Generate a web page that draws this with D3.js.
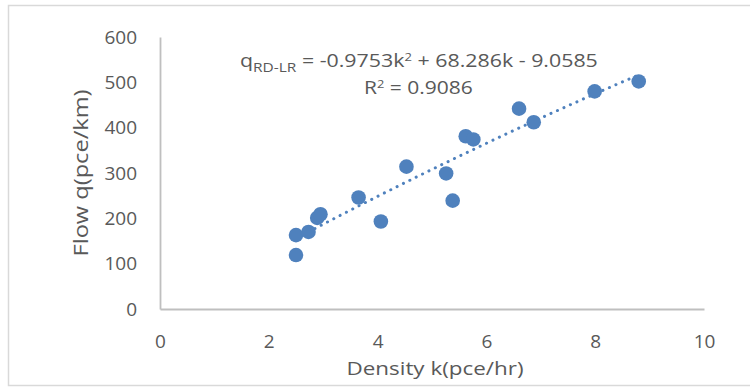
<!DOCTYPE html>
<html>
<head>
<meta charset="utf-8">
<script src="https://cdn.jsdelivr.net/npm/d3@7"></script>
<style>
  body { margin: 0; background: #fff; }
  text { font-family: 'Open Sans', sans-serif; fill: #595959; }
</style>
</head>
<body>
<div id="chart"></div>
<script>
// data
const density = [2.5, 2.5, 2.73, 2.89, 2.95, 3.65, 4.06, 4.53, 5.26, 5.38, 5.62, 5.76, 6.6, 6.87, 7.99, 8.8];
const flow = [119, 163, 170, 201, 209, 246, 193, 314, 299, 239, 381, 374, 442, 412, 480, 502];
// trendline q = a*k^2 + b*k + c
const trendCoef = [-0.9753, 68.286, -9.0585];
const xTicks = [0, 2, 4, 6, 8, 10];
const yTicks = [0, 100, 200, 300, 400, 500, 600];

const W = 750, H = 387;
const margin = { top: 37, right: 46, bottom: 78, left: 160 };
const width = W - margin.left - margin.right,
  height = H - margin.top - margin.bottom;

const root = d3.select('#chart').append('svg')
  .attr('width', W)
  .attr('height', H);

// outer frame (right side runs off the picture)
root.append('rect')
  .attr('x', 8.5).attr('y', 5.5)
  .attr('width', 800).attr('height', 380)
  .attr('fill', 'none')
  .attr('stroke', '#d9d9d9')
  .attr('stroke-width', 1.5);

const svg = root.append('g')
  .attr('transform', `translate(${margin.left},${margin.top})`);

const x = d3.scaleLinear().domain([0, 10]).range([0, width]);
const y = d3.scaleLinear().domain([0, 600]).range([height, 0]);

// X axis
const gx = svg.append('g')
  .attr('transform', `translate(0,${height})`)
  .call(d3.axisBottom(x).tickValues(xTicks).tickSize(0).tickPadding(26));
gx.select('.domain').attr('stroke', '#bfbfbf').attr('stroke-width', 1.8);
gx.selectAll('text').style('font-size', '19px').attr('fill', '#595959');

// Y axis
const gy = svg.append('g')
  .call(d3.axisLeft(y).tickValues(yTicks).tickSize(0).tickPadding(23));
gy.select('.domain').attr('stroke', '#bfbfbf').attr('stroke-width', 1.8);
gy.selectAll('text').style('font-size', '19px').attr('fill', '#595959');

// axis titles
svg.append('text')
  .attr('x', width / 2 + 3)
  .attr('y', height + 66)
  .attr('text-anchor', 'middle')
  .attr('textLength', 177)
  .attr('lengthAdjust', 'spacingAndGlyphs')
  .style('font-size', '19px')
  .text('Density k(pce/hr)');

svg.append('text')
  .attr('transform', `translate(${88 - margin.left},${173 - margin.top}) rotate(-90)`)
  .attr('text-anchor', 'middle')
  .attr('textLength', 167)
  .attr('lengthAdjust', 'spacingAndGlyphs')
  .style('font-size', '20px')
  .text('Flow q(pce/km)');

// trendline
const [a, b, c] = trendCoef;
const kMin = d3.min(density), kMax = d3.max(density);
const trendPts = d3.range(0, 101).map((i) => {
  const k = kMin + (kMax - kMin) * i / 100;
  return [k, a * k * k + b * k + c];
});
svg.append('path')
  .datum(trendPts)
  .attr('fill', 'none')
  .attr('stroke', '#4f81bd')
  .attr('stroke-width', 3)
  .attr('stroke-linecap', 'round')
  .attr('stroke-dasharray', '0.1 7')
  .attr('d', d3.line().x((d) => x(d[0])).y((d) => y(d[1])));

// points
svg.selectAll('circle.pt')
  .data(density.map((k, i) => ({ k: k, q: flow[i] })))
  .join('circle')
  .attr('class', 'pt')
  .attr('cx', (d) => x(d.k))
  .attr('cy', (d) => y(d.q))
  .attr('r', 7.3)
  .attr('fill', '#4f81bd');

// equation label
const eq = root.append('text')
  .attr('x', 240).attr('y', 67)
  .style('font-size', '18px');
eq.append('tspan').text('q');
eq.append('tspan').attr('dy', 5).style('font-size', '13px').text('RD-LR');
eq.append('tspan').attr('dy', -5).text(' = -0.9753k');
eq.append('tspan').attr('dy', -6).style('font-size', '11px').text('2');
eq.append('tspan').attr('dy', 6).text(' + 68.286k - 9.0585');
const eqW = eq.node().getComputedTextLength();
eq.attr('transform', `translate(240,0) scale(${358 / eqW},1) translate(-240,0)`);

const r2 = root.append('text')
  .attr('x', 364).attr('y', 94)
  .style('font-size', '18px');
r2.append('tspan').text('R');
r2.append('tspan').attr('dy', -6).style('font-size', '11px').text('2');
r2.append('tspan').attr('dy', 6).text(' = 0.9086');
const r2W = r2.node().getComputedTextLength();
r2.attr('transform', `translate(364,0) scale(${109 / r2W},1) translate(-364,0)`);
</script>
</body>
</html>
